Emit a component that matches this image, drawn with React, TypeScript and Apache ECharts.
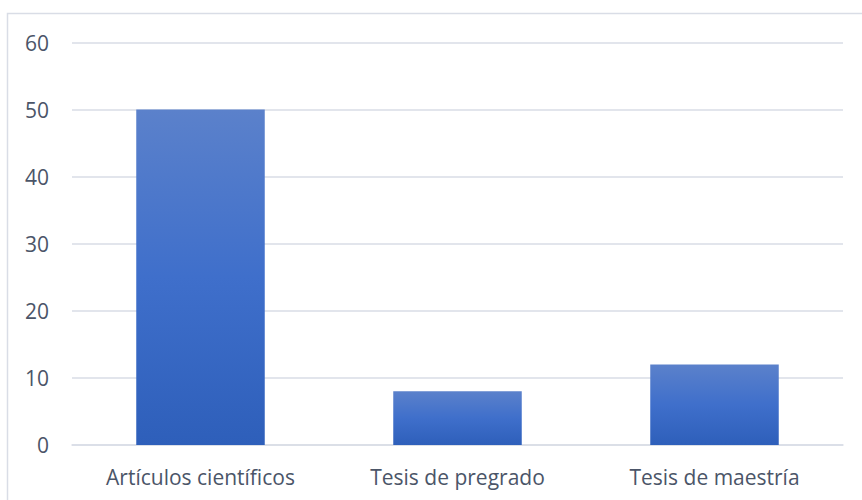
import React, { useEffect, useRef } from "react";
import * as echarts from "echarts";

const categories = ["Artículos científicos", "Tesis de pregrado", "Tesis de maestría"];
const values = [50, 8, 12];
const yTicks = { min: 0, max: 60, interval: 10 };

export default function App() {
  const ref = useRef<HTMLDivElement>(null);
  useEffect(() => {
    const chart = echarts.init(ref.current!, undefined, { renderer: "svg" });
    const textColor = "#4B5568";
    chart.setOption({
      animation: false,
      backgroundColor: "#ffffff",
      grid: { left: 72, right: 19, top: 42.5, bottom: 55, containLabel: false },
      graphic: [
        {
          type: "rect",
          shape: { x: 7.5, y: 13.5, width: 880, height: 520 },
          style: { fill: "none", stroke: "#D9DDE6", lineWidth: 1.5 },
          silent: true,
        },
      ],
      xAxis: {
        type: "category",
        data: categories,
        axisLine: { show: true, lineStyle: { color: "#D9DDE6", width: 1.5 } },
        axisTick: { show: false },
        axisLabel: { color: textColor, fontSize: 21, fontFamily: "Open Sans", margin: 21 },
      },
      yAxis: {
        type: "value",
        min: yTicks.min,
        max: yTicks.max,
        interval: yTicks.interval,
        axisLine: { show: false },
        axisTick: { show: false },
        splitLine: { lineStyle: { color: "#D9DDE6", width: 1.5 } },
        axisLabel: { color: textColor, fontSize: 21, fontFamily: "Open Sans", margin: 23 },
      },
      series: [
        {
          type: "bar",
          data: values,
          barCategoryGap: "50%",
          itemStyle: {
            color: new echarts.graphic.LinearGradient(0, 0, 0, 1, [
              { offset: 0, color: "#5B81CB" },
              { offset: 0.5, color: "#3F6FCB" },
              { offset: 1, color: "#2E5FBA" },
            ]),
          },
        },
      ],
    });
    return () => chart.dispose();
  }, []);
  return (
    <div
      ref={ref}
      style={{ position: "absolute", left: 0, top: 0, width: 862, height: 500 }}
    />
  );
}
